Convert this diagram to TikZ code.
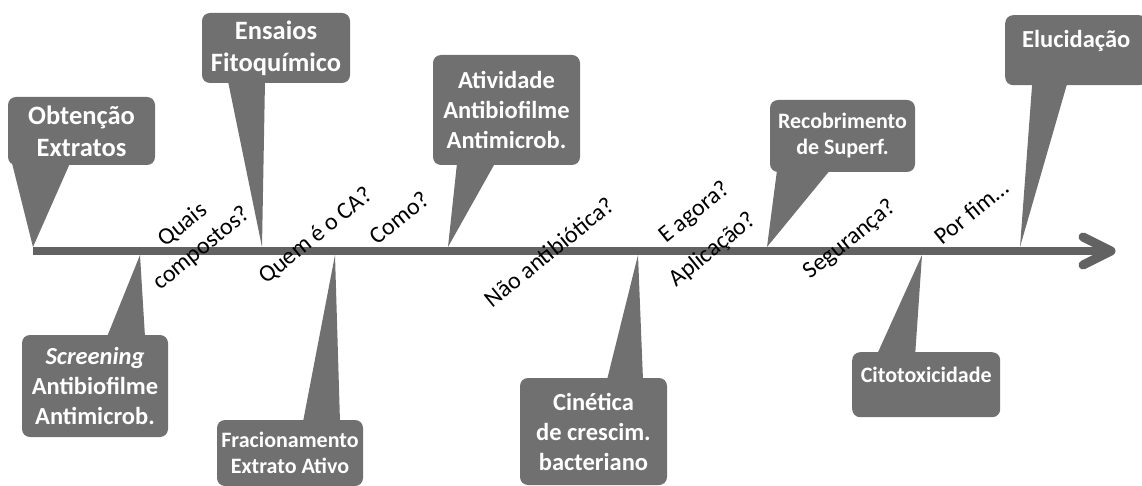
\documentclass[tikz,border=0pt]{standalone}
\usepackage{fontspec}
\setmainfont{Carlito}
\usepackage{tikz}
\usetikzlibrary{calc}
\definecolor{boxgray}{RGB}{112,112,112}
\definecolor{axisgray}{RGB}{98,98,98}

\begin{document}
\begin{tikzpicture}[
    x=1pt, y=-1pt,
    callout/.style={fill=boxgray,rounded corners=8pt,inner sep=0pt,
                    text=white,align=center,font=\bfseries#1},
    tail/.style={fill=boxgray},
    ask/.style={rotate=39,align=center,inner sep=0pt,
                font=\fontsize{24}{30}\selectfont},
    big/.style={font=\fontsize{26.5}{32}\selectfont\bfseries},
    mid/.style={font=\fontsize{24.5}{30}\selectfont\bfseries},
    small/.style={font=\fontsize{22}{26}\selectfont\bfseries}]

    \useasboundingbox (0,0) rectangle (1142,486);

    % axis and arrow head
    \coordinate (start) at (33,251);
    \coordinate (stop)  at (1106,251);
    \coordinate (tip)   at (1111,251);
    \draw[axisgray,line width=8pt] (start) -- (stop);
    \draw[axisgray,line width=9pt,line cap=round,line join=round]
      (1083,237) -- (tip) -- (1083,265);

    % where the tails meet the axis
    \coordinate (t1) at (33,247);
    \coordinate (t2) at (262,247);
    \coordinate (t3) at (448,247);
    \coordinate (t4) at (767,247);
    \coordinate (t5) at (1020,247);
    \coordinate (b1) at (140,255);
    \coordinate (b2) at (335,255);
    \coordinate (b3) at (638,255);
    \coordinate (b4) at (922,255);

    % Upper callouts
    \node[callout, big, minimum width=147pt, minimum height=68pt] (obt) at (81.5,131)
      {Obtenção\\Extratos};
    \node[callout, big, minimum width=148pt, minimum height=70pt] (ens) at (276,48)
      {Ensaios\\Fitoquímico};
    \node[callout, mid, minimum width=147pt, minimum height=110pt] (ati) at (506.5,110)
      {Atividade\\Antibiofilme\\Antimicrob.};
    \node[callout, small, minimum width=145pt, minimum height=72pt] (rec) at (842.5,136)
      {Recobrimento\\de Superf.};
    \node[callout, mid, minimum width=142pt, text height=32pt, text depth=38pt,
          anchor=north west] (elu) at (1005,15) {Elucidação};

    \fill[tail] ([xshift=-69.5pt,yshift=2pt]obt.south) -- ([xshift=-11.5pt,yshift=2pt]obt.south) -- (t1) -- cycle;
    \fill[tail] ([xshift=-48pt,yshift=2pt]ens.south) -- ([xshift=-11pt,yshift=2pt]ens.south) -- (t2) -- cycle;
    \fill[tail] ([xshift=-49.5pt,yshift=2pt]ati.south) -- ([xshift=-11.5pt,yshift=2pt]ati.south) -- (t3) -- cycle;
    \fill[tail] ([xshift=-65.5pt,yshift=2pt]rec.south) -- ([xshift=-12.5pt,yshift=2pt]rec.south) -- (t4) -- cycle;
    \fill[tail] ([xshift=-44pt,yshift=2pt]elu.south) -- ([xshift=-9pt,yshift=2pt]elu.south) -- (t5) -- cycle;

    % Lower callouts
    \node[callout, mid, minimum width=146pt, minimum height=102pt] (scr) at (95,386)
      {\textit{Screening}\\Antibiofilme\\Antimicrob.};
    \node[callout, small, minimum width=146pt, minimum height=66pt] (fra) at (290,453)
      {Fracionamento\\Extrato Ativo};
    \node[callout, mid, minimum width=147pt, minimum height=107pt] (cin) at (593.5,431.5)
      {Cinética\\de crescim.\\bacteriano};
    \node[callout, small, minimum width=148pt, text height=30pt, text depth=35pt,
          anchor=north west] (cit) at (852,352) {Citotoxicidade};

    \fill[tail] ([xshift=12pt,yshift=-2pt]scr.north) -- ([xshift=50pt,yshift=-2pt]scr.north) -- (b1) -- cycle;
    \fill[tail] ([xshift=13pt,yshift=-2pt]fra.north) -- ([xshift=50pt,yshift=-2pt]fra.north) -- (b2) -- cycle;
    \fill[tail] ([xshift=13.5pt,yshift=-2pt]cin.north) -- ([xshift=49.5pt,yshift=-2pt]cin.north) -- (b3) -- cycle;
    \fill[tail] ([xshift=-49pt,yshift=-2pt]cit.north) -- ([xshift=-11pt,yshift=-2pt]cit.north) -- (b4) -- cycle;

    % Questions along the axis
    \node[ask] (q1) at (192.5,237) {Quais\\compostos?};
    \node[ask] (q2) at (316,236) {Quem é o CA?};
    \node[ask] (q3) at (399,218) {Como?};
    \node[ask] (q4) at (549,252) {Não antibiótica?};
    \node[ask] (q5) at (695,213) {E agora?};
    \node[ask] (q6) at (713,250) {Aplicação?};
    \node[ask] (q7) at (850,240) {Segurança?};
    \node[ask] (q8) at (971,212) {Por fim…};
\end{tikzpicture}
\end{document}
